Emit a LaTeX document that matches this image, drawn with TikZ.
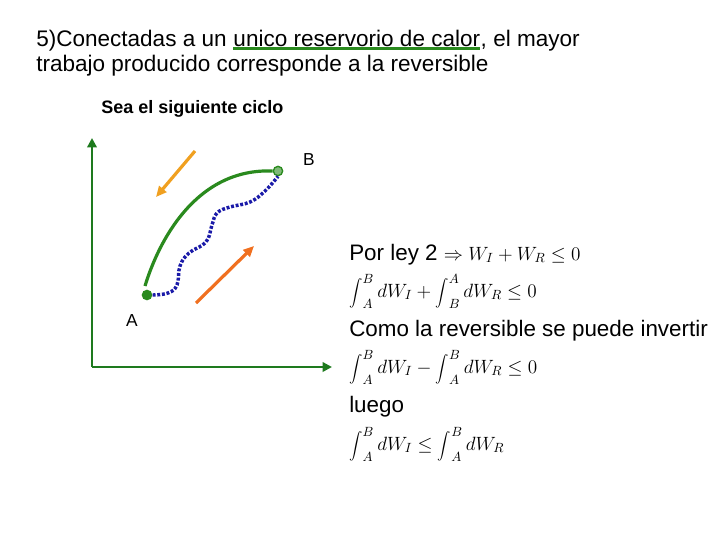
\documentclass[tikz,border=0pt]{standalone}
\usepackage{fontspec}
\setmainfont{Liberation Sans}
\usetikzlibrary{arrows.meta}
\definecolor{axgreen}{HTML}{1E7A1E}
\definecolor{curvegreen}{HTML}{2A8A1E}
\definecolor{dotblue}{HTML}{1A1AA8}
\definecolor{lightorange}{HTML}{F0A020}
\definecolor{darkorange}{HTML}{F07020}
\newcommand\bint{\mathop{\hbox{\fontsize{10.5}{11}\selectfont$\displaystyle\int$}}\nolimits}
\newcommand\mth[1]{{\fontsize{14.8}{18}\selectfont$#1$}}
\begin{document}
\begin{tikzpicture}[x=0.75pt,y=-0.75pt,
  txt/.style={anchor=base west,inner sep=0pt,font=\fontsize{16.9}{20}\selectfont},
  rtxt/.style={anchor=base west,inner sep=0pt,font=\fontsize{16.8}{20}\selectfont},
  axis/.style={axgreen,line width=2.2pt,-{Triangle[length=7pt,width=7pt]}},
  oarrow/.style={line width=2.4pt,-{Triangle[length=8pt,width=7pt]}},
  lbl/.style={inner sep=0pt,font=\fontsize{13}{15}\selectfont}]
\useasboundingbox (0,0) rectangle (720,540);
% title
\node[txt] (t1a) at (36,46) {5)Conectadas a un\ \null};
\node[txt] (t1b) at (t1a.base east) {unico reservorio de calor};
\node[txt] (t1c) at (t1b.base east) {, el mayor};
\draw[curvegreen,line width=2.2pt] ([yshift=-2.2pt]t1b.base west) -- ([yshift=-2.2pt]t1b.base east);
\node[txt] (t2) at (36,71) {trabajo producido corresponde a la reversible};
\node[anchor=base west,inner sep=0pt,font=\fontsize{13.5}{16}\selectfont\bfseries] (sea) at (101,113) {Sea el siguiente ciclo};
% axes
\coordinate (O) at (92,367);
\coordinate (ytop) at (92,138);
\coordinate (xend) at (332,367);
\draw[axis] (O) -- (ytop);
\draw[axis] (O) -- (xend);
% points
\node[circle,fill=curvegreen,inner sep=0pt,minimum size=8pt] (A) at (147,295) {};
\node[circle,draw=curvegreen,fill=curvegreen!60,line width=1pt,inner sep=0pt,minimum size=7pt] (B) at (278,171) {};
\node[lbl] (la) at (132,321) {A};
\node[lbl] (lb) at (309,160) {B};
% green curve
\draw[curvegreen,line width=2.4pt] (145,286) .. controls (158,243) and (195,168) .. (B.west);
% blue dotted
\draw[dotblue,line width=2.6pt,dash pattern=on 2.2pt off 1.3pt] plot[smooth,tension=0.7] coordinates {(A.east) (168,293) (177,285) (180,266) (189,253) (206,242) (212,225) (217,213) (230,207) (250,202) (265,191) (B.south)};
% orange arrows
\coordinate (o1s) at (195,151);
\coordinate (o1e) at (156,197);
\coordinate (o2s) at (196,303);
\coordinate (o2e) at (254,246);
\draw[oarrow,lightorange] (o1s) -- (o1e);
\draw[oarrow,darkorange] (o2s) -- (o2e);
% right text
\node[rtxt] (r1) at (349,260) {Por ley 2 \mth{\Rightarrow W_I + W_R \leq 0}};
\node[rtxt] (r2) at (349,297) {\mth{\bint_A^B dW_I + \bint_B^A dW_R \leq 0}};
\node[rtxt] (r3) at (349,336) {Como la reversible se puede invertir};
\node[rtxt] (r4) at (349,373) {\mth{\bint_A^B dW_I - \bint_A^B dW_R \leq 0}};
\node[rtxt] (r5) at (349,412) {luego};
\node[rtxt] (r6) at (349,450) {\mth{\bint_A^B dW_I \leq \bint_A^B dW_R}};
\end{tikzpicture}
\end{document}
